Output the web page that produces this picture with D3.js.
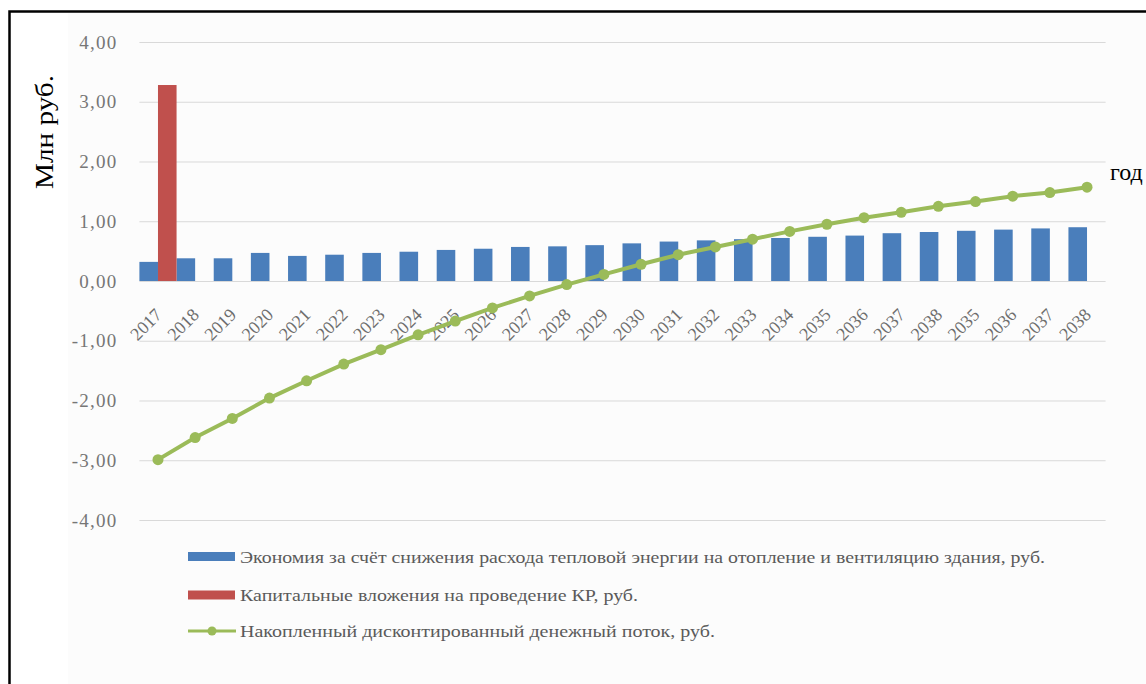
<!DOCTYPE html>
<html>
<head>
<meta charset="utf-8">
<script src="https://cdn.jsdelivr.net/npm/d3@7"></script>
<style>
  body { margin: 0; background: #fff; }
  svg { display: block; font-family: "Liberation Serif", "Times New Roman", serif; }
</style>
</head>
<body>
<svg id="canvas"></svg>
<script>
let width = 1146
let height = 684

// data (млн руб.)
let years = ['2017', '2018', '2019', '2020', '2021', '2022', '2023', '2024', '2025', '2026', '2027', '2028', '2029',
    '2030', '2031', '2032', '2033', '2034', '2035', '2036', '2037', '2038', '2035', '2036', '2037', '2038']
let savings = [0.32, 0.38, 0.38, 0.47, 0.42, 0.44, 0.47, 0.49, 0.52, 0.54, 0.57, 0.58, 0.60,
    0.63, 0.66, 0.68, 0.70, 0.72, 0.74, 0.76, 0.80, 0.82, 0.84, 0.86, 0.88, 0.90]
let capex = [3.28, 0, 0, 0, 0, 0, 0, 0, 0, 0, 0, 0, 0, 0, 0, 0, 0, 0, 0, 0, 0, 0, 0, 0, 0, 0]
let cumulative = [-2.99, -2.62, -2.30, -1.96, -1.67, -1.39, -1.15, -0.90, -0.67, -0.45, -0.25, -0.06, 0.11,
    0.28, 0.44, 0.57, 0.70, 0.83, 0.95, 1.06, 1.15, 1.25, 1.33, 1.42, 1.48, 1.57]
let yTicks = [-4, -3, -2, -1, 0, 1, 2, 3, 4]
let legendNames = [
    'Экономия за счёт снижения расхода тепловой энергии на отопление и вентиляцию здания, руб.',
    'Капитальные вложения на проведение КР, руб.',
    'Накопленный дисконтированный денежный поток, руб.'
]

let blue = '#4a7ebb'
let red = '#c0504d'
let green = '#9bbb59'

let left = 139.4
let right = 1105.6

let canvas = d3.select('#canvas')
    .attr('width', width)
    .attr('height', height)

// frame and faint plot background
canvas.append('rect')
    .attr('x', 68).attr('y', 13)
    .attr('width', 1100).attr('height', 700)
    .attr('fill', '#fcfcfc')
canvas.append('rect')
    .attr('x', 9.5).attr('y', 11.5)
    .attr('width', 1200).attr('height', 800)
    .attr('fill', 'none')
    .attr('stroke', '#000')
    .attr('stroke-width', 2.5)

let xScale = d3.scaleBand()
    .domain(d3.range(years.length))
    .range([left, right])
    .padding(0)
let yScale = d3.scaleLinear()
    .domain([-4, 4])
    .range([520, 42])
let bw = xScale.bandwidth()

// gridlines
let grid = d3.axisLeft(yScale)
    .tickValues(yTicks)
    .tickSize(-(right - left))
    .tickFormat('')
canvas.append('g')
    .attr('transform', 'translate(' + left + ',0)')
    .call(grid)
    .call(g => g.select('.domain').remove())
    .call(g => g.selectAll('line').attr('stroke', '#d9d9d9').attr('stroke-width', 1))

// y labels
let yAxis = d3.axisLeft(yScale)
    .tickValues(yTicks)
    .tickSize(0)
    .tickPadding(22)
    .tickFormat(d => d3.format('.2f')(d).replace('.', ',').replace('−', '-'))
canvas.append('g')
    .attr('transform', 'translate(' + left + ',0)')
    .call(yAxis)
    .call(g => g.select('.domain').remove())
    .call(g => g.selectAll('text')
        .attr('font-family', '"Liberation Serif", serif')
        .attr('font-size', 19)
        .attr('letter-spacing', 1.2)
        .attr('fill', '#767676'))

// bars
canvas.append('g').selectAll('rect')
    .data(savings)
    .enter()
    .append('rect')
    .attr('x', (d, i) => xScale(i))
    .attr('width', bw / 2)
    .attr('y', d => yScale(d))
    .attr('height', d => yScale(0) - yScale(d))
    .attr('fill', blue)
canvas.append('g').selectAll('rect')
    .data(capex)
    .enter()
    .append('rect')
    .attr('x', (d, i) => xScale(i) + bw / 2)
    .attr('width', bw / 2)
    .attr('y', d => yScale(d))
    .attr('height', d => yScale(0) - yScale(d))
    .attr('fill', red)

// x labels
let xAxis = d3.axisBottom(xScale)
    .tickSize(0)
    .tickFormat(i => years[i])
canvas.append('g')
    .attr('transform', 'translate(0,' + yScale(0) + ')')
    .call(xAxis)
    .call(g => g.select('.domain').remove())
    .call(g => g.selectAll('text')
        .attr('font-family', '"Liberation Serif", serif')
        .attr('font-size', 18)
        .attr('fill', '#6e6e6e')
        .attr('text-anchor', 'end')
        .attr('y', 0)
        .attr('dy', 0)
        .attr('transform', 'translate(5,35) rotate(-45)'))

// cumulative line
let line = d3.line()
    .x((d, i) => xScale(i) + bw / 2)
    .y(d => yScale(d))
canvas.append('path')
    .datum(cumulative)
    .attr('d', line)
    .attr('fill', 'none')
    .attr('stroke', green)
    .attr('stroke-width', 4)
canvas.append('g').selectAll('circle')
    .data(cumulative)
    .enter()
    .append('circle')
    .attr('cx', (d, i) => xScale(i) + bw / 2)
    .attr('cy', d => yScale(d))
    .attr('r', 5.5)
    .attr('fill', green)

// axis titles
canvas.append('text')
    .attr('transform', 'translate(53,132) rotate(-90)')
    .attr('text-anchor', 'middle')
    .attr('font-size', 26)
    .attr('fill', '#000')
    .attr('textLength', 114)
    .attr('lengthAdjust', 'spacingAndGlyphs')
    .text('Млн руб.')
canvas.append('text')
    .attr('x', 110)
    .attr('y', 180)
    .attr('x', 1110)
    .attr('font-size', 24)
    .attr('fill', '#000')
    .text('год')

// legend
let legendWidths = [805, 398, 475]
let legend = canvas.append('g')
legendNames.forEach((name, i) => {
    let cy = [556.5, 595, 631][i]
    if (i < 2) {
        legend.append('rect')
            .attr('x', 188).attr('y', cy - 4.5)
            .attr('width', 47).attr('height', 9)
            .attr('fill', i == 0 ? blue : red)
    } else {
        legend.append('line')
            .attr('x1', 188).attr('x2', 236)
            .attr('y1', cy).attr('y2', cy)
            .attr('stroke', green).attr('stroke-width', 3)
        legend.append('circle')
            .attr('cx', 212).attr('cy', cy).attr('r', 4.5)
            .attr('fill', green)
    }
    legend.append('text')
        .attr('x', 240)
        .attr('y', cy + 6)
        .attr('font-size', 17)
        .attr('fill', '#5a5a5a')
        .attr('textLength', legendWidths[i])
        .attr('lengthAdjust', 'spacingAndGlyphs')
        .text(name)
})
</script>
</body>
</html>
